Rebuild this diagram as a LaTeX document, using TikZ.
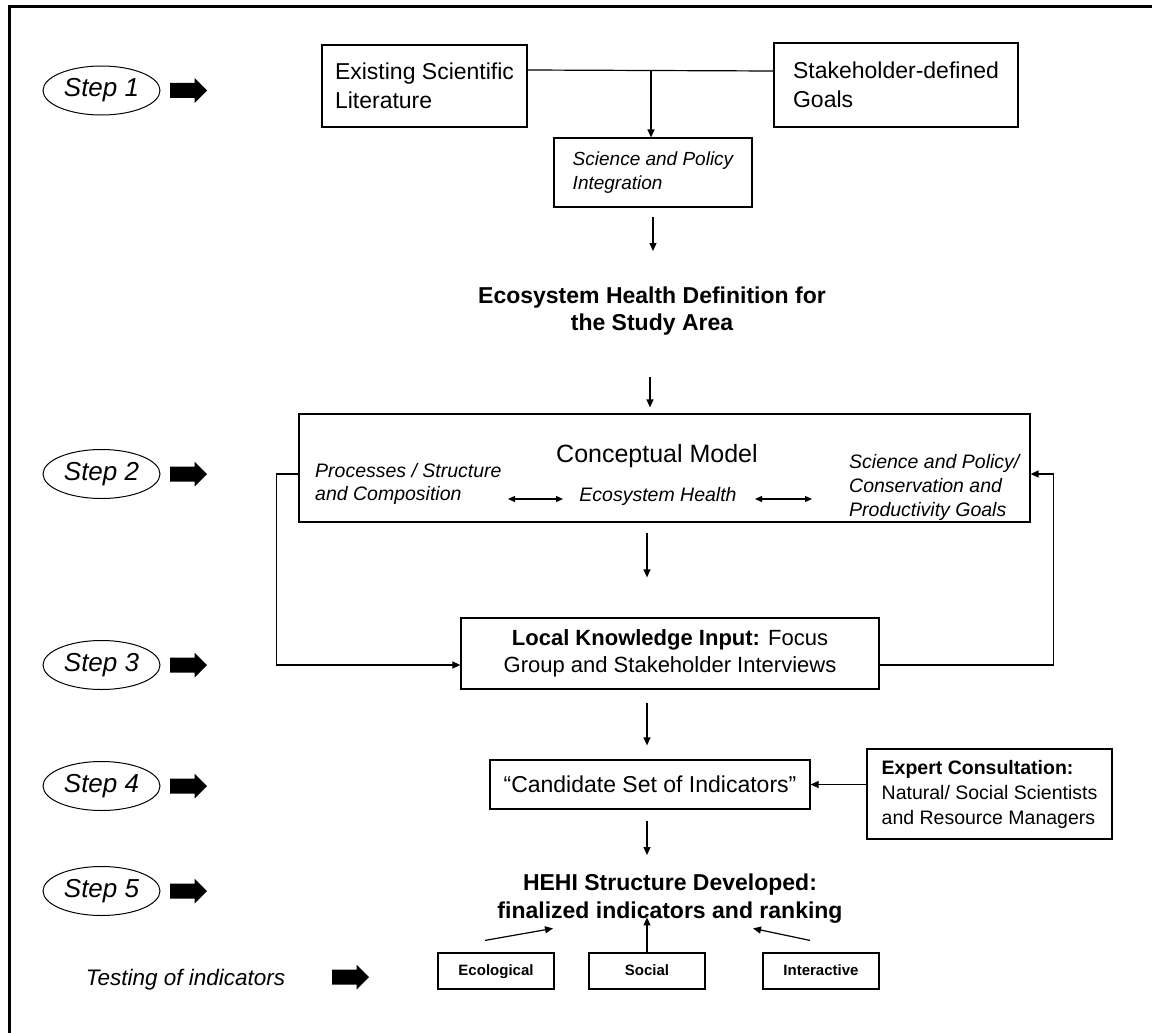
\documentclass[tikz,border=0pt]{standalone}
\usepackage{fontspec}
\setmainfont{Liberation Sans}
\usetikzlibrary{shapes.geometric,arrows.meta}
\newcommand\fsz[2]{\fontsize{#1}{#2}\selectfont}
\begin{document}
\begin{tikzpicture}[x=1pt,y=-1pt,
  box/.style={draw, line width=1.2pt, inner sep=0pt},
  smallbox/.style={box, minimum width=116pt, minimum height=36pt, text height=11pt, text depth=3pt, font=\fsz{15}{18}\bfseries},
  stepell/.style={draw, ellipse, line width=1pt, minimum width=117pt, minimum height=49pt, inner sep=0pt, font=\fsz{26}{30}\itshape},
  fatarr/.style={fill=black},
  arr/.style={line width=1.2pt, -{Triangle[length=8pt,width=7pt]}},
  darr/.style={line width=1.2pt, {Triangle[length=7pt,width=6pt]}-{Triangle[length=7pt,width=6pt]}},
  txt/.style={inner sep=0pt},
]
\useasboundingbox (0,0) rectangle (1152,1033);
% frame (cropped)
\draw[line width=3pt] (9.5,1040) -- (9.5,6.5) -- (1160,6.5);

% step labels with block arrows
\foreach \n/\y in {1/90.5,2/474,3/665,4/786,5/891}{
  \node[stepell] (s\n) at (101.5,\y) {Step \n};
  \coordinate (f\n) at (188.5,\y);
  \fill[fatarr] (f\n) ++(-18.5,-7.5) -- ++(24.5,0) -- ++(0,-5) -- ++(12.5,12.5) -- ++(-12.5,12.5) -- ++(0,-5) -- ++(-24.5,0) -- cycle;
}
\node[txt, font=\fsz{22.5}{27}\itshape, anchor=base] (test) at (185.5,985) {Testing of indicators};
\coordinate (ft) at (350.5,977);
\fill[fatarr] (ft) ++(-18.5,-7.5) -- ++(24.5,0) -- ++(0,-5) -- ++(12.5,12.5) -- ++(-12.5,12.5) -- ++(0,-5) -- ++(-24.5,0) -- cycle;

% step 1
\node[box, minimum width=205pt, minimum height=82pt, align=left, font=\fsz{23}{29}] (lit) at (424.5,86) {Existing Scientific\\Literature};
\node[box, minimum width=244pt, minimum height=84pt, align=left, font=\fsz{23}{29}] (stk) at (896,85) {Stakeholder-defined\\Goals};
\node[box, minimum width=198pt, minimum height=69pt, align=left, font=\fsz{19}{23.5}\itshape] (sci) at (653,172.5) {Science and Policy\\Integration};
\coordinate (jn) at (651,70);
\draw[line width=1.2pt] ([yshift=16pt]lit.east) -- ([yshift=14pt]stk.west);
\draw[arr] (jn) -- (jn |- sci.north);

\node[txt, align=center, font=\fsz{23}{27}\bfseries, anchor=base] (eco) at (652,330) {Ecosystem Health Definition for\\the Study Area};
\draw[arr, shorten <=9pt] (sci.south) -- (653,251);

% step 2
\node[box, minimum width=731pt, minimum height=108pt] (cm) at (664.5,468) {};
\draw[arr, shorten <=42pt, shorten >=6pt] (eco.south -| 650,0) -- (cm.north -| 650,0);
\node[txt, font=\fsz{25}{30}, anchor=base] (cmt) at (657,462) {Conceptual Model};
\node[txt, font=\fsz{19.5}{23}\itshape, align=left, anchor=base west] (proc) at (315,500) {Processes / Structure\\and Composition};
\node[txt, font=\fsz{19.5}{23}\itshape, anchor=base] (eh) at (658,501) {Ecosystem Health};
\node[txt, font=\fsz{19.5}{24}\itshape, align=left, anchor=base west] (sp) at (849,516) {Science and Policy/\\Conservation and\\Productivity Goals};
\draw[darr] (508,499) -- (563,499);
\draw[darr] (755,499) -- (812,499);

% step 3
\node[box, minimum width=418pt, minimum height=71pt, align=center, font=\fsz{22}{27}] (lk) at (670,653.5) {\textbf{Local Knowledge Input:} Focus\\Group and Stakeholder Interviews};
\draw[arr, shorten <=10pt, shorten >=40pt] (cm.south -| 647,0) -- (lk.north -| 647,0);
\draw[arr] ([yshift=-6pt]cm.west) -- ++(-22,0) |- ([yshift=-11.5pt]lk.west);
\draw[arr] ([yshift=-11.5pt]lk.east) -| ([xshift=23pt,yshift=-6pt]cm.east) -- ([yshift=-6pt]cm.east);

% step 4
\node[box, minimum width=320pt, minimum height=49pt, font=\fsz{23}{27}] (cand) at (650,784.5) {“Candidate Set of Indicators”};
\draw[arr, shorten <=13pt, shorten >=14pt] (lk.south -| 647,0) -- (cand.north -| 647,0);
\node[box, minimum width=245pt, minimum height=90pt, align=left, font=\fsz{19.5}{25}] (exp) at (989.5,794) {\textbf{Expert Consultation:}\\Natural/ Social Scientists\\and Resource Managers};
\draw[arr] (exp.west |- cand.east) -- (cand.east);

% step 5
\node[txt, align=center, font=\fsz{23}{28}\bfseries, anchor=base] (hehi) at (670,918) {HEHI Structure Developed:\\finalized indicators and ranking};
\draw[arr, shorten <=11pt] (cand.south -| 647,0) -- (647,855);

\node[smallbox] (ecol) at (496,971) {Ecological};
\node[smallbox] (soc) at (647,971) {Social};
\node[smallbox] (inter) at (821,971) {Interactive};
\draw[arr] ([xshift=-11pt,yshift=12pt]ecol.north) -- ([xshift=57pt,yshift=24pt]ecol.north);
\draw[arr] (soc.north) -- ++(0,-35);
\draw[arr] ([xshift=-11pt,yshift=12pt]inter.north) -- ([xshift=-68pt,yshift=24pt]inter.north);
\end{tikzpicture}
\end{document}
